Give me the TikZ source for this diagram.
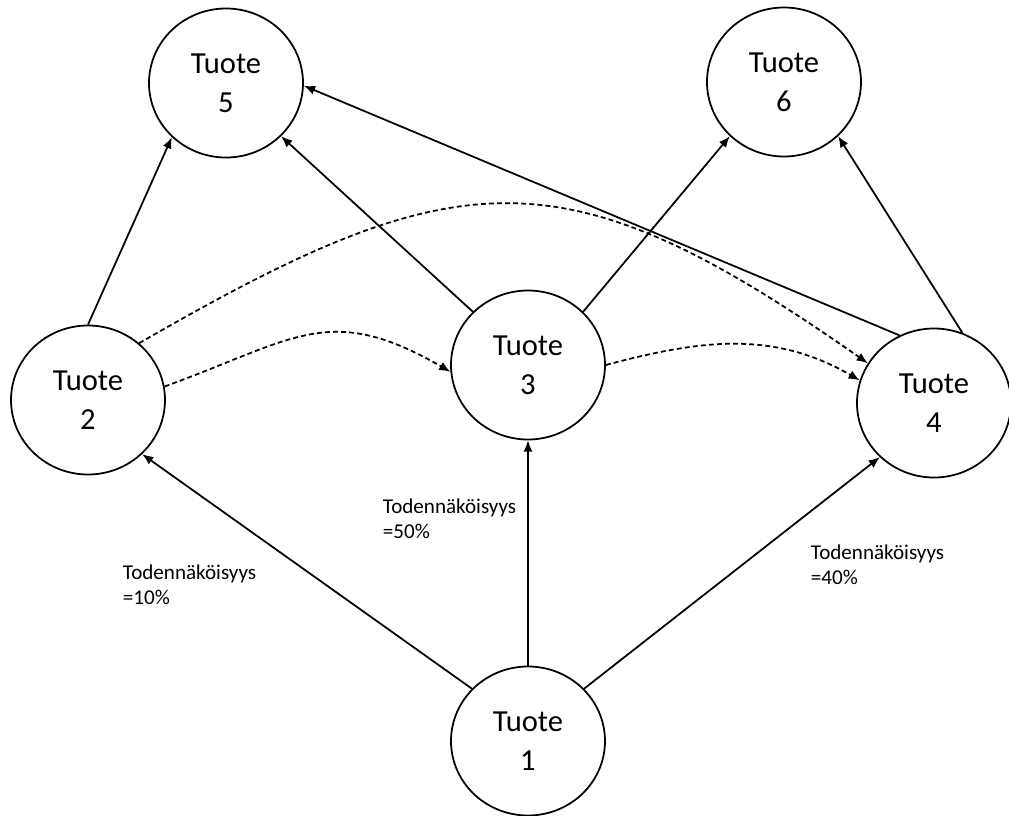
\documentclass[tikz,border=0pt]{standalone}
\usepackage{fontspec}
\setmainfont{Carlito}
\usetikzlibrary{shapes.geometric,arrows.meta}
\begin{document}
\begin{tikzpicture}
	[tuote/.style={ellipse,draw,minimum width=1.54cm,minimum height=1.49cm,inner sep=0pt,align=center,font=\fontsize{8.7}{11}\selectfont},
	 lbl/.style={anchor=west,align=left,inner sep=0pt,font=\fontsize{6}{7.1}\selectfont},
	 vaihto/.style={dash pattern=on 1.4pt off 0.9pt},
	 >={Latex[length=3.2pt,width=2.6pt]},line width=0.5pt]
	\useasboundingbox(0,0)rectangle(10.09,-8.16);
	\node[tuote,name=t5]at(2.26,-0.83){Tuote\\5};
	\node[tuote,name=t6]at(7.84,-0.82){Tuote\\6};
	\node[tuote,name=t2]at(0.88,-4.00){Tuote\\2};
	\node[tuote,name=t3]at(5.28,-3.65){Tuote\\3};
	\node[tuote,name=t4]at(9.34,-4.03){Tuote\\4};
	\node[tuote,name=t1]at(5.28,-7.41){Tuote\\1};
	\draw[->](t1.137)--(t2.315);
	\draw[->](t1.north)--(t3.south);
	\draw[->](t1.43)--(t4.225);
	\draw[->](t2.north)--(t5.225);
	\draw[->](t3.136)--(t5.316);
	\draw[->](t3.44)--(t6.225);
	\draw[->](t4.117)--(t5.358);
	\draw[->](t4.68)--(t6.315);
	\draw[->,vaihto](t2.10)to[out=20,in=150,looseness=1.25](t3.185);
	\draw[->,vaihto](t2.48)to[out=30,in=145,looseness=1.3](t4.149);
	\draw[->,vaihto](t3.east)to[out=15,in=150](t4.163);
	\node[lbl,name=p2]at(1.22,-5.85){Todennäköisyys\\=10\%};
	\node[lbl,name=p3]at(3.82,-5.19){Todennäköisyys\\=50\%};
	\node[lbl,name=p4]at(8.10,-5.65){Todennäköisyys\\=40\%};
\end{tikzpicture}
\end{document}
